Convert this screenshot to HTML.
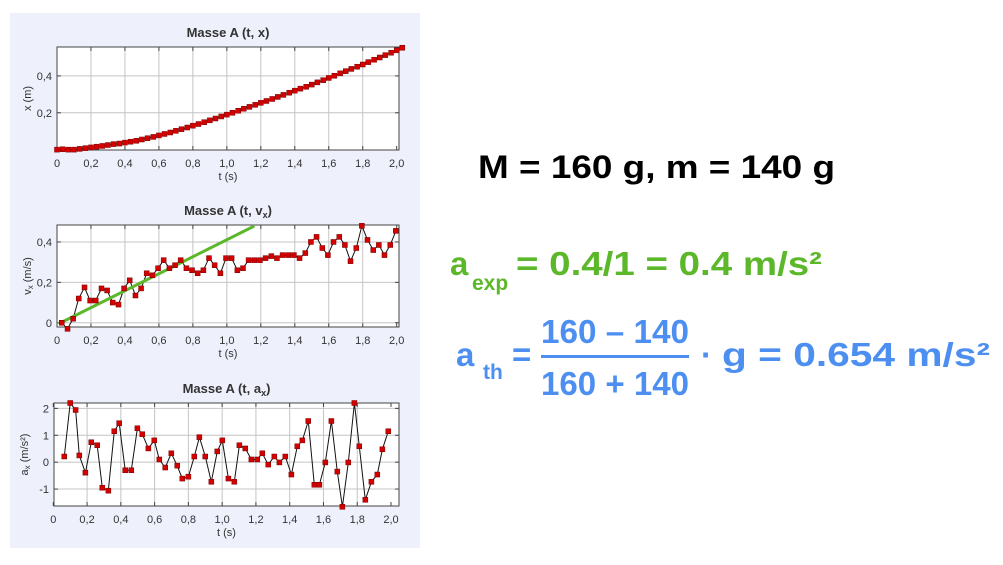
<!DOCTYPE html>
<html><head><meta charset="utf-8">
<style>
body{margin:0;background:#fff;}
svg{display:block;font-family:"Liberation Sans",sans-serif;}
</style></head>
<body>
<svg id="s" width="1003" height="565" viewBox="0 0 1003 565">
<rect x="10" y="13" width="410" height="535" fill="#eef0fc"/>
<g id="charts"></g>
<text x="478" y="178" font-size="32" font-weight="bold" fill="#000" textLength="357" lengthAdjust="spacingAndGlyphs">M = 160 g, m = 140 g</text>
<g fill="#5cb82a" font-weight="bold">
<text x="450" y="275" font-size="33">a</text>
<text x="472" y="290" font-size="21">exp</text>
<text x="516" y="275" font-size="33" textLength="306" lengthAdjust="spacingAndGlyphs">= 0.4/1 = 0.4 m/s²</text>
</g>
<g fill="#4d8ff0" font-weight="bold">
<text x="456" y="366" font-size="33">a</text>
<text x="483" y="379" font-size="21">th</text>
<text x="512" y="366" font-size="33">=</text>
<text x="541" y="343" font-size="33" textLength="148" lengthAdjust="spacingAndGlyphs">160 – 140</text>
<rect x="541" y="355" width="148" height="3"/>
<text x="541" y="395" font-size="33" textLength="148" lengthAdjust="spacingAndGlyphs">160 + 140</text>
<text x="701" y="366" font-size="33">·</text>
<text x="722" y="366" font-size="33" textLength="268" lengthAdjust="spacingAndGlyphs">g = 0.654 m/s²</text>
</g>
</svg>
<script>
// Chart 1: x(t)
const xTimes = [0,0.033,0.067,0.1,0.133,0.167,0.2,0.233,0.267,0.3,0.333,0.367,0.4,0.433,0.467,0.5,0.533,0.567,0.6,0.633,0.667,0.7,0.733,0.767,0.8,0.833,0.867,0.9,0.933,0.967,1.0,1.033,1.067,1.1,1.133,1.167,1.2,1.233,1.267,1.3,1.333,1.367,1.4,1.433,1.467,1.5,1.533,1.567,1.6,1.633,1.667,1.7,1.733,1.767,1.8,1.833,1.867,1.9,1.933,1.967,2.0,2.033];
const xValues = [0,0.002,0.0,0.0,0.004,0.008,0.012,0.016,0.02,0.025,0.03,0.033,0.038,0.043,0.048,0.055,0.062,0.069,0.077,0.085,0.093,0.102,0.111,0.12,0.13,0.139,0.149,0.159,0.169,0.18,0.19,0.2,0.211,0.222,0.232,0.243,0.254,0.264,0.275,0.286,0.297,0.309,0.32,0.331,0.341,0.353,0.365,0.377,0.389,0.401,0.414,0.426,0.438,0.45,0.462,0.475,0.488,0.5,0.513,0.526,0.539,0.553];
// Chart 2: vx(t)
const vTimes = [0.028,0.062,0.095,0.128,0.162,0.195,0.228,0.262,0.295,0.328,0.362,0.395,0.428,0.462,0.495,0.528,0.562,0.595,0.628,0.662,0.695,0.728,0.762,0.795,0.828,0.862,0.895,0.928,0.962,0.995,1.028,1.062,1.095,1.128,1.162,1.195,1.228,1.262,1.295,1.328,1.362,1.395,1.428,1.462,1.495,1.528,1.562,1.595,1.628,1.662,1.695,1.728,1.762,1.795,1.828,1.862,1.895,1.928,1.962,1.995];
const vValues = [0.0,-0.03,0.02,0.12,0.175,0.11,0.11,0.17,0.16,0.1,0.09,0.17,0.21,0.135,0.17,0.245,0.235,0.27,0.31,0.27,0.285,0.31,0.27,0.26,0.245,0.26,0.32,0.285,0.245,0.32,0.32,0.26,0.27,0.31,0.31,0.31,0.32,0.33,0.32,0.335,0.335,0.335,0.32,0.345,0.4,0.425,0.37,0.335,0.4,0.425,0.385,0.305,0.37,0.48,0.41,0.36,0.385,0.335,0.385,0.455];
const fitLineT = [0.01,1.162];
const fitLineV = [-0.005,0.479];
// Chart 3: ax(t)
const aTimes = [0.065,0.10,0.132,0.154,0.19,0.225,0.26,0.29,0.326,0.361,0.39,0.426,0.462,0.498,0.527,0.563,0.598,0.628,0.663,0.699,0.734,0.764,0.80,0.835,0.865,0.90,0.936,0.971,1.001,1.037,1.072,1.102,1.137,1.173,1.208,1.238,1.273,1.309,1.339,1.374,1.41,1.445,1.475,1.51,1.546,1.576,1.611,1.647,1.682,1.712,1.747,1.783,1.812,1.848,1.884,1.919,1.949,1.984];
const aValues = [0.21,2.2,1.94,0.25,-0.39,0.74,0.63,-0.95,-1.06,1.15,1.45,-0.3,-0.3,1.26,1.04,0.51,0.81,0.1,-0.2,0.33,-0.13,-0.61,-0.54,0.21,0.93,0.21,-0.73,0.4,0.81,-0.61,-0.73,0.63,0.51,0.1,0.1,0.33,-0.09,0.21,-0.01,0.21,-0.46,0.59,0.81,1.53,-0.84,-0.84,-0.01,1.53,-0.35,-1.66,-0.01,2.2,0.59,-1.4,-0.73,-0.46,0.48,1.15];
const xTickVals = [0,0.2,0.4,0.6,0.8,1.0,1.2,1.4,1.6,1.8,2.0];
const xTickLabels = ["0","0,2","0,4","0,6","0,8","1,0","1,2","1,4","1,6","1,8","2,0"];
const y1Ticks = [0.2,0.4]; const y1Labels = ["0,2","0,4"];
const y2Ticks = [0,0.2,0.4]; const y2Labels = ["0","0,2","0,4"];
const y3Ticks = [-1,0,1,2]; const y3Labels = ["-1","0","1","2"];

const NS="http://www.w3.org/2000/svg";
const root=document.getElementById('charts');
function mk(tag,attrs,parent){const e=document.createElementNS(NS,tag);for(const k in attrs)e.setAttribute(k,attrs[k]);(parent||root).appendChild(e);return e;}

function chart(c){
  const g=mk('g',{});
  
  
  const sx=t=>c.x0px+(t-0)*(c.x2px-c.x0px)/2;
  const sy=v=>c.bottom-(v-c.ymin)*(c.bottom-c.top)/(c.ymax-c.ymin);
  mk('rect',{x:c.left,y:c.top,width:c.right-c.left,height:c.bottom-c.top,fill:'#fff'},g);
  xTickVals.forEach((t,i)=>{
    const x=sx(t);
    if(i>0&&i<xTickVals.length-1){const gl=mk('line',{x1:x,x2:x,y1:c.top,y2:c.bottom,stroke:'#c4c4c4','stroke-width':1},g);}
    mk('line',{x1:x,x2:x,y1:c.bottom-4,y2:c.bottom,stroke:'#444'},g);
    mk('line',{x1:x,x2:x,y1:c.top,y2:c.top+4,stroke:'#444'},g);
    const tl=mk('text',{x:x,y:c.bottom+17,'font-size':11,fill:'#333','text-anchor':'middle'},g);
    tl.textContent=xTickLabels[i];
    
    
  });
  c.yt.forEach((v,i)=>{
    const y=sy(v);
    const gl=mk('line',{x1:c.left,x2:c.right,y1:y,y2:y,stroke:'#c4c4c4'},g);
    
    
    mk('line',{x1:c.left,x2:c.left+4,y1:y,y2:y,stroke:'#444'},g);
    mk('line',{x1:c.right-4,x2:c.right,y1:y,y2:y,stroke:'#444'},g);
    const tl=mk('text',{x:c.left-5,y:y+4,'font-size':11,fill:'#333','text-anchor':'end'},g);
    tl.textContent=c.yl[i];
    
    
  });
  mk('rect',{x:c.left,y:c.top,width:c.right-c.left,height:c.bottom-c.top,fill:'none',stroke:'#444','stroke-width':1},g);
  const title=mk('text',{x:(c.left+c.right)/2,y:c.top-10,'font-size':13,'font-weight':'bold',fill:'#333','text-anchor':'middle'},g);
  title.innerHTML=c.title;
  
  
  const xt=mk('text',{x:(c.left+c.right)/2,y:c.bottom+30,'font-size':11,fill:'#333','text-anchor':'middle'},g);
  xt.textContent='t (s)';
  
  
  const yc=(c.top+c.bottom)/2;
  const yt=mk('text',{x:0,y:0,'font-size':11,fill:'#333','text-anchor':'middle',transform:`translate(${c.left-26},${yc}) rotate(-90)`},g);
  yt.innerHTML=c.ytitle;
  
  
  const cp='clip'+c.name;
  const cl=mk('clipPath',{id:cp},g);mk('rect',{x:c.left,y:c.top-3,width:c.right-c.left+3,height:c.bottom-c.top+6},cl);
  const pts=c.ts.map((t,i)=>sx(t).toFixed(1)+','+sy(c.vs[i]).toFixed(1)).join(' ');
  const pl=mk('polyline',{points:pts,fill:'none',stroke:'#111','stroke-width':1},g);
  
  
  if(c.fit){
    const fl=mk('line',{x1:sx(c.fit[0][0]),y1:sy(c.fit[1][0]),x2:sx(c.fit[0][1]),y2:sy(c.fit[1][1]),stroke:'#5cb82a','stroke-width':3},g);
    
    
  }
  c.ts.forEach((t,i)=>{
    const r=mk('rect',{x:sx(t)-2.5,y:sy(c.vs[i])-2.5,width:5,height:5,fill:'#d40000',stroke:'#700','stroke-width':0.5},g);
    
    
  });
}
chart({name:'chart-position',left:57,right:399,top:47,bottom:150,x0px:57,x2px:396.7,ymin:-0.002,ymax:0.557,yt:y1Ticks,yl:y1Labels,ts:xTimes,vs:xValues,title:'Masse A (t, x)',ytitle:'x (m)'});
chart({name:'chart-velocity',left:57,right:399,top:225,bottom:327,x0px:57,x2px:396.7,ymin:-0.021,ymax:0.484,yt:y2Ticks,yl:y2Labels,ts:vTimes,vs:vValues,fit:[fitLineT,fitLineV],title:'Masse A (t, v<tspan font-size="9" dy="3">x</tspan><tspan dy="-3">)</tspan>',ytitle:'v<tspan font-size="8" dy="2">x</tspan><tspan dy="-2"> (m/s)</tspan>'});
chart({name:'chart-acceleration',left:54,right:399,top:403,bottom:506,x0px:53.3,x2px:391,ymin:-1.63,ymax:2.2,yt:y3Ticks,yl:y3Labels,ts:aTimes,vs:aValues,title:'Masse A (t, a<tspan font-size="9" dy="3">x</tspan><tspan dy="-3">)</tspan>',ytitle:'a<tspan font-size="8" dy="2">x</tspan><tspan dy="-2"> (m/s²)</tspan>'});
</script>
</body></html>
